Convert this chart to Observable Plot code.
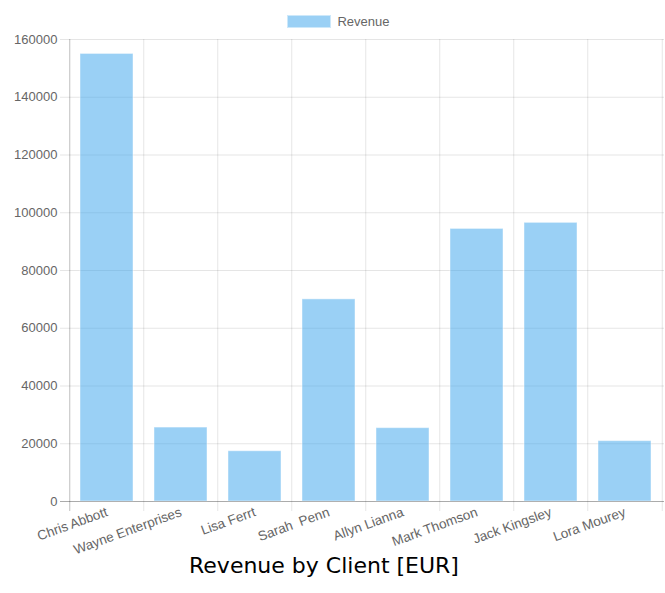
<!DOCTYPE html>
<html>
<head>
<meta charset="utf-8">
<script src="https://cdn.jsdelivr.net/npm/d3@7"></script>
<script src="https://cdn.jsdelivr.net/npm/@observablehq/plot@0.6"></script>
<style>
  html, body { margin: 0; padding: 0; background: #fff; }
  body { width: 665px; height: 593px; position: relative; overflow: hidden; font-family: "Liberation Sans", Arial, sans-serif; }
  #legend { position: absolute; top: 15px; left: 0; width: 665px; display: flex; justify-content: center; align-items: center; height: 13px; }
  #legend .sw { display: inline-block; width: 42px; height: 11px; background: rgba(54,162,235,0.5); border: 1px solid rgba(255,255,255,0.5); margin-left: 12px; }
  #legend .lt { font-size: 13px; color: #666; margin-left: 6px; line-height: 13px; }
  #chart { position: absolute; top: 30px; left: 0; }
  #chart svg { overflow: visible; }
  #chart svg text { white-space: pre; }
  #title { position: absolute; top: 553px; left: 0; width: 648px; text-align: center; font-family: "DejaVu Sans", sans-serif; font-size: 22px; line-height: 26px; color: #000; }
</style>
</head>
<body>
<div id="legend"><span class="sw"></span><span class="lt"></span></div>
<div id="chart"></div>
<div id="title"></div>
<script>
const clients = ["Chris Abbott", "Wayne Enterprises", "Lisa Ferrt", "Sarah  Penn", "Allyn Lianna", "Mark Thomson", "Jack Kingsley", "Lora Mourey"];
const revenue = [155000, 25600, 17400, 70000, 25400, 94400, 96500, 20900];
const yTicks = [0, 20000, 40000, 60000, 80000, 100000, 120000, 140000, 160000];
const seriesName = "Revenue";
const chartTitle = "Revenue by Client [EUR]";

document.querySelector("#legend .lt").textContent = seriesName;
document.getElementById("title").textContent = chartTitle;

const data = clients.map((c, i) => ({client: c, revenue: revenue[i]}));

const W = 665, H = 522, mL = 68, mR = 1, mT = 9, mB = 51;
const step = (W - mL - mR) / clients.length;
const gridStroke = "#000";

const chart = Plot.plot({
  width: W,
  height: H,
  marginLeft: mL,
  marginRight: mR,
  marginTop: mT,
  marginBottom: mB,
  style: {fontFamily: "Liberation Sans, Arial, sans-serif", fontSize: "13px", color: "#666", background: "#fff", overflow: "visible"},
  x: {domain: clients, paddingInner: 0.28, paddingOuter: 0.14, label: null},
  y: {domain: [0, 160000], label: null},
  marks: [
    Plot.gridY(yTicks, {stroke: gridStroke, strokeOpacity: 0.1}),
    Plot.ruleX(clients.slice(1), {x: d => d, dx: -step / 2, stroke: gridStroke, strokeOpacity: 0.1, insetBottom: -10}),
    Plot.ruleX(clients.slice(-1), {x: d => d, dx: step / 2, stroke: gridStroke, strokeOpacity: 0.1, insetBottom: -10}),
    Plot.ruleX(clients.slice(0, 1), {x: d => d, dx: -step / 2, stroke: gridStroke, strokeOpacity: 0.25, insetBottom: -10}),
    Plot.axisY({ticks: yTicks, tickSize: 8, tickPadding: 3, stroke: gridStroke, strokeOpacity: 0.1, fill: "#666", tickFormat: d => String(d), label: null}),
    Plot.barY(data, {x: "client", y: "revenue", fill: "rgb(54,162,235)", fillOpacity: 0.5, stroke: "#fff", strokeOpacity: 0.45, strokeWidth: 1}),
    Plot.ruleY([0], {stroke: gridStroke, strokeOpacity: 0.25, insetLeft: -8}),
    Plot.axisX({tickRotate: -20, tickSize: 0, tickPadding: 10, fill: "#666", fontSize: 13.5, label: null})
  ]
});
document.getElementById("chart").appendChild(chart);
</script>
</body>
</html>
